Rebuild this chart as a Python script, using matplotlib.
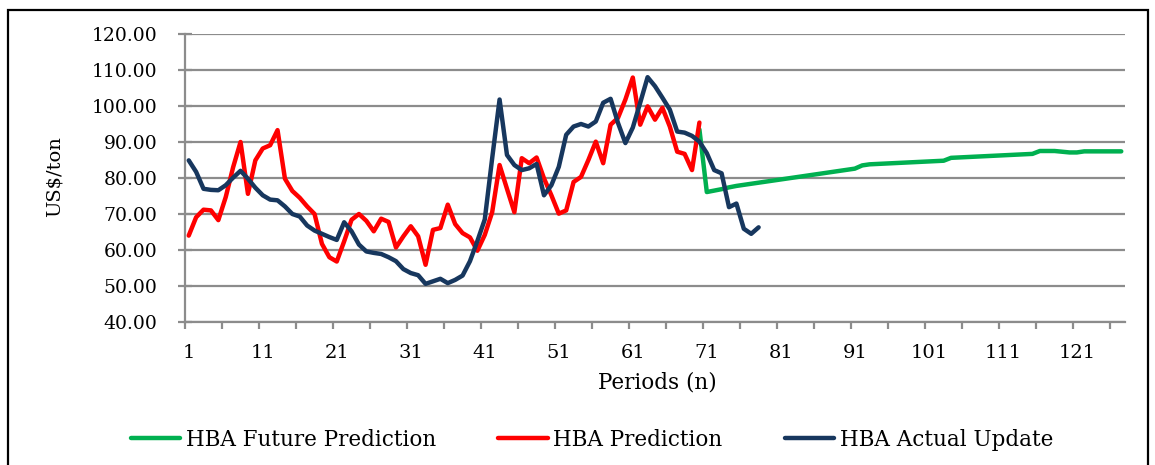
import matplotlib
matplotlib.use("Agg")
import matplotlib.pyplot as plt
import numpy as np
from matplotlib.patches import Rectangle
from matplotlib.ticker import FixedLocator, FormatStrFormatter

# HBA coal price (US$/ton) per period
hba_prediction = [
    64.0, 69.1, 71.2, 71.0, 68.3, 74.7, 83.0, 90.0, 75.6, 84.9,
    88.2, 89.1, 93.3, 79.8, 76.4, 74.5, 72.1, 70.0, 61.7, 58.0,
    56.8, 62.4, 68.4, 70.0, 68.1, 65.2, 68.7, 67.8, 60.7, 63.8,
    66.6, 63.8, 55.9, 65.6, 66.1, 72.6, 67.2, 64.7, 63.5, 59.8,
    64.2, 70.5, 83.6, 77.0, 70.5, 85.5, 84.1, 85.7, 79.9, 75.2,
    70.1, 71.0, 78.9, 80.3, 85.0, 90.1, 84.1, 94.8, 96.7, 101.8,
    107.9, 94.8, 99.9, 96.2, 99.5, 94.3, 87.3, 86.7, 82.2, 95.4,
]

hba_actual = [
    84.9, 81.7, 77.0, 76.7, 76.6, 78.0, 80.1, 82.0, 79.8, 77.3,
    75.2, 74.0, 73.8, 72.1, 70.0, 69.3, 66.8, 65.4, 64.5, 63.6,
    62.8, 67.7, 65.2, 61.5, 59.6, 59.2, 58.9, 58.0, 56.9, 54.7,
    53.6, 53.0, 50.6, 51.3, 52.0, 50.8, 51.7, 52.9, 56.9, 62.5,
    68.5, 85.5, 101.8, 86.4, 83.6, 82.2, 82.7, 83.9, 75.2, 78.0,
    83.1, 92.0, 94.3, 95.0, 94.3, 95.7, 100.9, 102.0, 95.3, 89.7,
    94.0, 100.9, 108.0, 105.5, 102.3, 99.0, 92.9, 92.6, 91.7, 90.1,
    86.9, 82.2, 81.3, 71.9, 72.9, 65.9, 64.5, 66.3,
]

# future prediction starts at period 70
future_start = 70
hba_future = [
    93.5, 76.1, 76.5, 76.9, 77.4, 77.8, 78.1, 78.4, 78.7, 79.0,
    79.3, 79.6, 79.9, 80.2, 80.5, 80.8, 81.1, 81.4, 81.7, 82.0,
    82.3, 82.6, 83.5, 83.8, 83.9, 84.0, 84.1, 84.2, 84.3, 84.4,
    84.5, 84.6, 84.7, 84.8, 85.6, 85.7, 85.8, 85.9, 86.0, 86.1,
    86.2, 86.3, 86.4, 86.5, 86.6, 86.7, 87.5, 87.5, 87.5, 87.3,
    87.1, 87.1, 87.4, 87.4, 87.4, 87.4, 87.4, 87.4,
]

n_periods = 127
x_labels = list(range(1, 122, 10))
y_ticks = list(range(40, 121, 10))

plt.rcParams['font.family'] = ['DejaVu Serif']

fig = plt.figure(figsize=(11.55, 4.65), dpi=100)
ax = fig.add_axes([0.1602, 0.3075, 0.974 - 0.1602, 0.9269 - 0.3075])

grid_col = '#8c8c8c'

ax.plot(np.arange(future_start, future_start + len(hba_future)), hba_future,
        color='#00B050', lw=3.2, label='HBA Future Prediction', solid_capstyle='round', zorder=3)
ax.plot(np.arange(1, len(hba_prediction) + 1), hba_prediction,
        color='#FF0000', lw=3.2, label='HBA Prediction', solid_capstyle='round', zorder=4)
ax.plot(np.arange(1, len(hba_actual) + 1), hba_actual,
        color='#17375E', lw=3.2, label='HBA Actual Update', solid_capstyle='round', zorder=5)

ax.set_xlim(0.5, n_periods + 0.5)
ax.set_ylim(40, 120)

ax.yaxis.set_major_locator(FixedLocator(y_ticks))
ax.yaxis.set_major_formatter(FormatStrFormatter('%.2f'))
ax.grid(axis='y', color=grid_col, lw=1.6)
ax.set_axisbelow(True)

ax.xaxis.set_major_locator(FixedLocator(x_labels))
ax.xaxis.set_minor_locator(FixedLocator(np.arange(0.5, n_periods, 5)))
ax.tick_params(axis='x', which='major', length=0, pad=16, labelsize=14)
ax.tick_params(axis='x', which='minor', length=5, width=1.6, color=grid_col, direction='out')
ax.tick_params(axis='y', which='major', length=10, width=1.6, color=grid_col,
               direction='inout', pad=15, labelsize=13.5)

for s in ['top', 'right']:
    ax.spines[s].set_visible(False)
for s in ['left', 'bottom']:
    ax.spines[s].set_color(grid_col)
    ax.spines[s].set_linewidth(1.6)

fig.text(55 / 1155, 1 - 177 / 465, 'US$/ton', rotation=90, ha='center', va='center', fontsize=14)
fig.text(657 / 1155, 1 - 382 / 465, 'Periods (n)', ha='center', va='center', fontsize=15.5)

fig.legend(loc='center', bbox_to_anchor=(592 / 1155, 1 - 440 / 465), ncol=3, frameon=False,
           fontsize=15.5, handlelength=2.3, handletextpad=0.25, columnspacing=2.9)

# chart border
fig.patches.append(Rectangle((8 / 1155, -0.05), 1140 / 1155, 1.05 - 10 / 465,
                             transform=fig.transFigure, fill=False, ec='black', lw=1.6))

fig.savefig('out.png', dpi=100)
